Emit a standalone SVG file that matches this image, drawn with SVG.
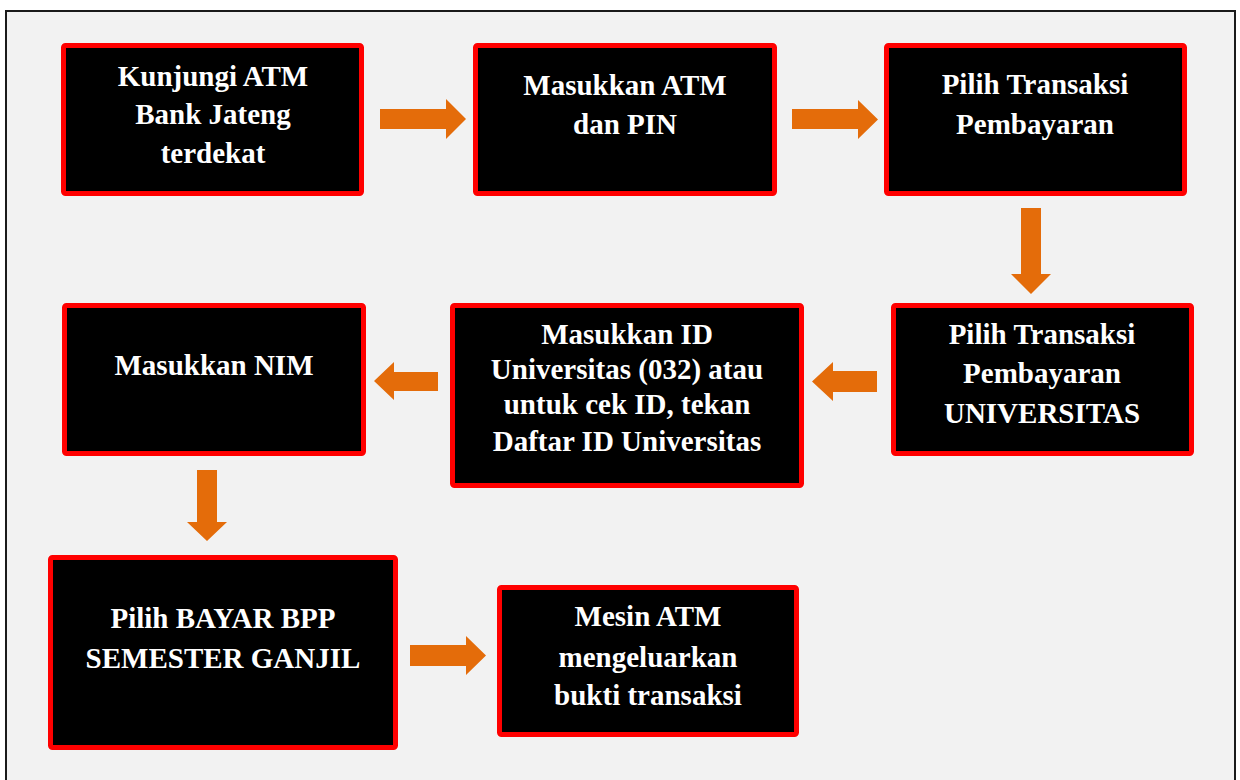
<svg xmlns="http://www.w3.org/2000/svg" width="1240" height="780" viewBox="0 0 1240 780">
<style>
.frame{fill:#f2f2f2;stroke:#1a1a1a;stroke-width:2}
.box{fill:#000;stroke:#ff0000;stroke-width:5}
.lbl{font-family:"Liberation Serif","Times New Roman",serif;font-weight:bold;font-size:29px;fill:#ffffff;text-anchor:middle}
.arr{fill:#e46c0a}
</style>
<rect width="1240" height="780" fill="#ffffff"/>
<rect class="frame" x="6" y="11" width="1229" height="780"/>

<g id="connectors">
<polygon class="arr" points="380,109 446,109 446,99 466,119 446,139 446,129 380,129"/>
<polygon class="arr" points="792,109 858,109 858,100 878,119.5 858,139 858,129 792,129"/>
<polygon class="arr" points="1021,208 1041,208 1041,274 1051,274 1031,294 1011,274 1021,274"/>
<polygon class="arr" points="877,371 833,371 833,362 812,381.5 833,401 833,392 877,392"/>
<polygon class="arr" points="438,372 394,372 394,362 374,381 394,400 394,391 438,391"/>
<polygon class="arr" points="197,470 217,470 217,522 227,522 207,541 187,522 197,522"/>
<polygon class="arr" points="410,645 466,645 466,636 486,655.5 466,675 466,666 410,666"/>
</g>

<g id="n1">
<rect class="box" x="63.5" y="45.5" width="298" height="148" rx="2"/>
<text class="lbl" x="213" y="86">Kunjungi ATM</text>
<text class="lbl" x="213" y="124">Bank Jateng</text>
<text class="lbl" x="213" y="163">terdekat</text>
</g>
<g id="n2">
<rect class="box" x="475.5" y="45.5" width="299" height="148" rx="2"/>
<text class="lbl" x="625" y="95">Masukkan ATM</text>
<text class="lbl" x="625" y="134">dan PIN</text>
</g>
<g id="n3">
<rect class="box" x="886.5" y="45.5" width="298" height="148" rx="2"/>
<text class="lbl" x="1035" y="94">Pilih Transaksi</text>
<text class="lbl" x="1035" y="134">Pembayaran</text>
</g>
<g id="n4">
<rect class="box" x="893.5" y="305.5" width="298" height="148" rx="2"/>
<text class="lbl" x="1042" y="344">Pilih Transaksi</text>
<text class="lbl" x="1042" y="383">Pembayaran</text>
<text class="lbl" x="1042" y="423">UNIVERSITAS</text>
</g>
<g id="n5">
<rect class="box" x="452.5" y="305.5" width="349" height="180" rx="2"/>
<text class="lbl" x="627" y="344">Masukkan ID</text>
<text class="lbl" x="627" y="379">Universitas (032) atau</text>
<text class="lbl" x="627" y="414">untuk cek ID, tekan</text>
<text class="lbl" x="627" y="451">Daftar ID Universitas</text>
</g>
<g id="n6">
<rect class="box" x="64.5" y="305.5" width="299" height="148" rx="2"/>
<text class="lbl" x="214" y="375">Masukkan NIM</text>
</g>
<g id="n7">
<rect class="box" x="50.5" y="557.5" width="345" height="190" rx="2"/>
<text class="lbl" x="223" y="628">Pilih BAYAR BPP</text>
<text class="lbl" x="223" y="668">SEMESTER GANJIL</text>
</g>
<g id="n8">
<rect class="box" x="499.5" y="587.5" width="297" height="147" rx="2"/>
<text class="lbl" x="648" y="626">Mesin ATM</text>
<text class="lbl" x="648" y="667">mengeluarkan</text>
<text class="lbl" x="648" y="705">bukti transaksi</text>
</g>
</svg>
